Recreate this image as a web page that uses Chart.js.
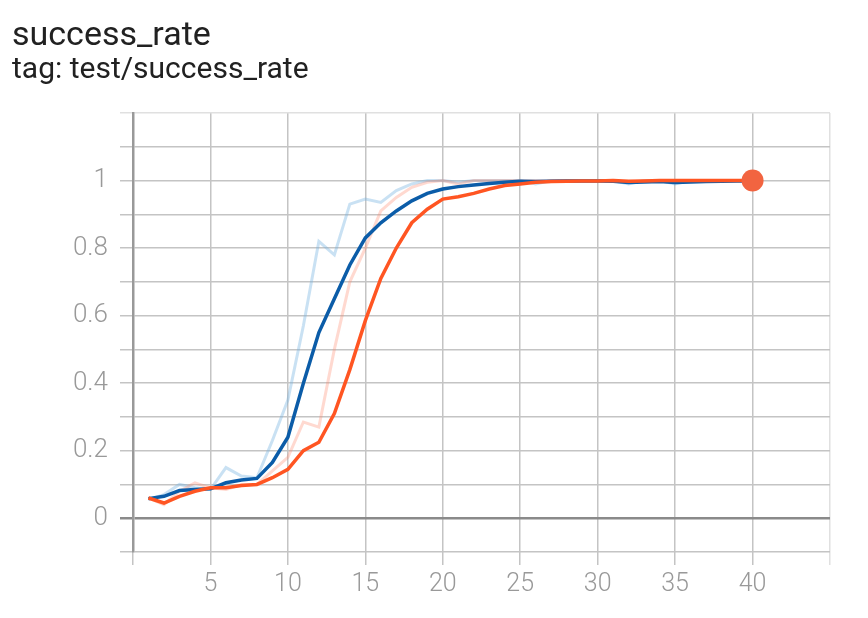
<!DOCTYPE html>
<html>
<head>
<meta charset="utf-8">
<script src="https://cdn.jsdelivr.net/npm/chart.js@4.4.1/dist/chart.umd.min.js"></script>
<style>
    html, body { margin: 0; padding: 0; background: #fff; }
    #wrap { position: relative; width: 868px; height: 618px; }
    #chart { position: absolute; left: 0; top: 0; }
    .title { position: absolute; left: 12px; font-family: Roboto, sans-serif; color: #212121; line-height: 1; white-space: nowrap; }
</style>
</head>
<body>
<div id="wrap">
    <canvas id="chart" width="868" height="618"></canvas>
    <div class="title" style="top:16px;font-size:34px;">success_rate</div>
    <div class="title" style="top:53px;font-size:30px;">tag: test/success_rate</div>
</div>
<script>
// steps on the x axis
const steps = [1, 2, 3, 4, 5, 6, 7, 8, 9, 10, 11, 12, 13, 14, 15, 16, 17, 18, 19, 20,
    21, 22, 23, 24, 25, 26, 27, 28, 29, 30, 31, 32, 33, 34, 35, 36, 37, 38, 39, 40];

// blue run: raw and smoothed
const blueRaw = [0.055, 0.07, 0.10, 0.09, 0.085, 0.15, 0.125, 0.12, 0.23, 0.35,
    0.57, 0.82, 0.78, 0.93, 0.945, 0.935, 0.97, 0.99, 1.0, 1.0,
    0.995, 1.0, 1.0, 1.0, 1.0, 0.99, 1.0, 1.0, 1.0, 1.0,
    1.0, 0.99, 1.0, 1.0, 0.99, 1.0, 1.0, 1.0, 1.0, 1.0];
const blueSmooth = [0.058, 0.065, 0.082, 0.085, 0.087, 0.105, 0.113, 0.118, 0.165, 0.24,
    0.40, 0.55, 0.65, 0.75, 0.83, 0.875, 0.91, 0.94, 0.962, 0.975,
    0.982, 0.987, 0.991, 0.995, 0.998, 0.997, 0.998, 0.999, 0.999, 0.999,
    0.998, 0.994, 0.996, 0.997, 0.994, 0.996, 0.997, 0.998, 0.999, 0.999];

// orange run: raw and smoothed
const orangeRaw = [0.06, 0.04, 0.08, 0.105, 0.09, 0.085, 0.10, 0.10, 0.14, 0.18,
    0.285, 0.27, 0.50, 0.70, 0.80, 0.91, 0.95, 0.98, 0.995, 1.0,
    0.99, 1.0, 1.0, 1.0, 1.0, 1.0, 1.0, 1.0, 1.0, 1.0,
    1.0, 0.995, 1.0, 1.0, 1.0, 1.0, 1.0, 1.0, 1.0, 1.0];
const orangeSmooth = [0.06, 0.045, 0.065, 0.08, 0.09, 0.09, 0.097, 0.10, 0.12, 0.145,
    0.20, 0.225, 0.31, 0.44, 0.585, 0.71, 0.80, 0.875, 0.915, 0.945,
    0.952, 0.962, 0.975, 0.985, 0.99, 0.995, 0.997, 0.998, 0.999, 0.999,
    1.0, 0.998, 0.999, 1.0, 1.0, 1.0, 1.0, 1.0, 1.0, 1.0];

// labelled ticks
const xTickLabels = [5, 10, 15, 20, 25, 30, 35, 40];
const yTickLabels = [0, 0.2, 0.4, 0.6, 0.8, 1];

const toPoints = (ys) => steps.map((s, i) => ({x: s, y: ys[i]}));
const lastIdx = steps.length - 1;

new Chart(document.getElementById('chart'), {
    type: 'line',
    data: {
        datasets: [
            {
                data: toPoints(blueRaw),
                borderColor: 'rgba(120, 180, 225, 0.4)',
                borderWidth: 3,
                pointRadius: 0,
                order: 3
            },
            {
                data: toPoints(orangeRaw),
                borderColor: 'rgba(255, 130, 100, 0.3)',
                borderWidth: 3,
                pointRadius: 0,
                order: 2
            },
            {
                data: toPoints(blueSmooth),
                borderColor: '#0b5ca8',
                borderWidth: 3.5,
                pointRadius: 0,
                order: 1
            },
            {
                data: toPoints(orangeSmooth),
                borderColor: '#ff5522',
                borderWidth: 3.5,
                pointRadius: (ctx) => ctx.dataIndex === lastIdx ? 11 : 0,
                pointBackgroundColor: '#f26440',
                pointBorderWidth: 0,
                order: 0
            }
        ]
    },
    options: {
        responsive: false,
        animation: false,
        layout: {padding: {top: 113, right: 38, bottom: 0, left: 0}},
        plugins: {legend: {display: false}, tooltip: {enabled: false}},
        elements: {line: {tension: 0}},
        scales: {
            x: {
                type: 'linear',
                min: 0,
                max: 45,
                afterFit: (s) => { s.height = 66; },
                ticks: {
                    stepSize: 5,
                    autoSkip: false,
                    padding: 5,
                    maxRotation: 0,
                    color: '#999',
                    font: {family: 'Roboto', size: 25, weight: '300'},
                    callback: (v) => xTickLabels.includes(v) ? String(v) : ''
                },
                grid: {
                    color: (ctx) => ctx.tick && ctx.tick.value === 45 ? '#e0e0e0' : '#c4c4c4',
                    lineWidth: 1.5,
                    tickLength: 13
                },
                border: {display: false}
            },
            y: {
                min: -0.1,
                max: 1.2,
                afterFit: (s) => { s.width = 133; },
                ticks: {
                    stepSize: 0.1,
                    autoSkip: false,
                    padding: 12,
                    color: '#999',
                    font: {family: 'Roboto', size: 26, weight: '300'},
                    callback: (v) => {
                        const r = Math.round(v * 10) / 10;
                        return yTickLabels.includes(r) ? String(r) : '';
                    }
                },
                grid: {
                    color: (ctx) => {
                        const v = ctx.tick ? Math.round(ctx.tick.value * 10) / 10 : null;
                        if (v === 0) return '#8a8a8a';
                        if (v === 1.2) return '#e0e0e0';
                        return '#c4c4c4';
                    },
                    lineWidth: (ctx) => ctx.tick && Math.round(ctx.tick.value * 10) === 0 ? 2.5 : 1.5,
                    tickLength: 13
                },
                border: {color: '#999', width: 2.5}
            }
        }
    }
});
</script>
</body>
</html>
